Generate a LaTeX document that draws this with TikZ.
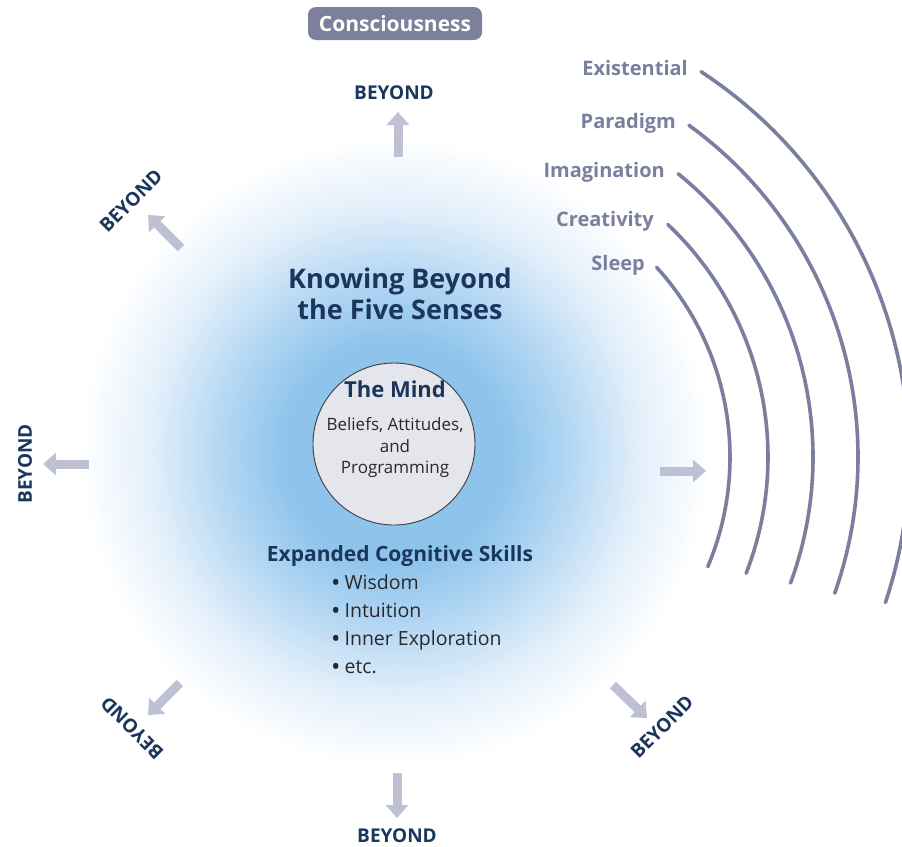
\documentclass[tikz,border=0pt]{standalone}
\usepackage{fontspec}
\setmainfont{Open Sans}
\usetikzlibrary{arrows.meta}

\definecolor{navy}{RGB}{27,54,93}
\definecolor{slate}{RGB}{122,127,158}
\definecolor{arrowgray}{RGB}{190,192,212}
\definecolor{boxgray}{RGB}{124,128,155}
\definecolor{mindfill}{RGB}{229,230,235}
\definecolor{mindedge}{RGB}{60,60,66}
\definecolor{bodytext}{RGB}{40,40,45}
\definecolor{glowcore}{RGB}{142,195,236}
\definecolor{glowmid}{RGB}{180,215,243}
\definecolor{glowedge}{RGB}{226,239,250}

% soft blue halo around the mind (25bp = outer radius of the shaded disc)
\pgfdeclareradialshading{mindglow}{\pgfpoint{0bp}{0bp}}{%
  color(0bp)=(glowcore); color(8.6bp)=(glowcore); color(13.7bp)=(glowmid);
  color(19.1bp)=(glowedge); color(24.6bp)=(white); color(50bp)=(white)}

\newcommand\fsz[1]{\fontsize{#1}{#1}\selectfont}
\newcommand\bul{{\fsz{25}\raisebox{-2pt}{•}}\hspace{4pt}}

\tikzset{
  beyond/.style={font=\fsz{19}\bfseries, text=navy, inner sep=0pt},
  outarrow/.style={draw=arrowgray, line width=9pt,
    -{Triangle[width=22pt,length=13pt]}},
  wave/.style={draw=slate, line width=3.6pt, line cap=round},
  wavelabel/.style={font=\fsz{20}\bfseries, text=slate, inner sep=0pt, anchor=base east},
  bullet/.style={font=\fsz{19.5}, text=bodytext, inner sep=0pt, anchor=mid west},
}

\begin{document}
\begin{tikzpicture}[x=1pt, y=-1pt]
  \useasboundingbox (0,0) rectangle (902,846);
  \fill[white] (0,0) rectangle (902,846);

  % halo
  \shade[shading=mindglow] (395,452) circle[radius=320];

  % header box
  \node[fill=boxgray, rounded corners=8pt, minimum width=174pt, minimum height=33pt,
        inner sep=0pt, text=white, font=\fsz{21}\bfseries] (cons) at (395,23.5) {Consciousness};

  % title
  \node[align=center, font=\fontsize{27}{31}\selectfont\bfseries, text=navy, inner sep=0pt]
    (title) at (400,294) {Knowing Beyond\\the Five Senses};

  % the mind
  \node[circle, draw=mindedge, line width=0.9pt, fill=mindfill, minimum size=162pt,
        inner sep=0pt] (mind) at (394,444) {};
  \node[font=\fsz{22}\bfseries, text=navy, inner sep=0pt] (mindtitle) at (395,389) {The Mind};
  \node[align=center, font=\fontsize{17}{21.5}\selectfont, text=bodytext, inner sep=0pt]
    (mindtext) at (395,448) {Beliefs, Attitudes,\\and\\Programming};

  % skills
  \node[font=\fsz{21}\bfseries, text=navy, inner sep=0pt] (skills) at (400,556) {Expanded Cognitive Skills};
  \node[bullet] (s1) at (331,587) {\bul Wisdom};
  \node[bullet] (s2) at (331,615) {\bul Intuition};
  \node[bullet] (s3) at (331,643) {\bul Inner Exploration};
  \node[bullet] (s4) at (331,671) {\bul etc.};

  % arrows pointing outward
  \coordinate (uT) at (398,157);  \coordinate (uH) at (398,112);
  \coordinate (ulT) at (181,248); \coordinate (ulH) at (148,215);
  \coordinate (lT) at (89,464);   \coordinate (lH) at (43,464);
  \coordinate (dlT) at (180,683); \coordinate (dlH) at (148,715);
  \coordinate (dT) at (397,773);  \coordinate (dH) at (397,818);
  \coordinate (drT) at (613,685); \coordinate (drH) at (647,718);
  \coordinate (rT) at (660,471);  \coordinate (rH) at (706,471);
  \draw[outarrow] (uT) -- (uH);
  \draw[outarrow] (ulT) -- (ulH);
  \draw[outarrow] (lT) -- (lH);
  \draw[outarrow] (dlT) -- (dlH);
  \draw[outarrow] (dT) -- (dH);
  \draw[outarrow] (drT) -- (drH);
  \draw[outarrow] (rT) -- (rH);

  % BEYOND labels
  \node[beyond] (bU) at (394,93) {BEYOND};
  \node[beyond, rotate=45] (bUL) at (131,201) {BEYOND};
  \node[beyond, rotate=90] (bL) at (25,464) {BEYOND};
  \node[beyond, rotate=135] (bDL) at (132,728) {BEYOND};
  \node[beyond] (bD) at (397,836) {BEYOND};
  \node[beyond, rotate=45] (bDR) at (662,727) {BEYOND};

  % states of consciousness as concentric arcs
  \coordinate (arcC) at (448,457);
  \node[wavelabel] (lExist) at (688,75)  {Existential};
  \node[wavelabel] (lPara)  at (676,128) {Paradigm};
  \node[wavelabel] (lImag)  at (665,177) {Imagination};
  \node[wavelabel] (lCrea)  at (654,226) {Creativity};
  \node[wavelabel] (lSleep) at (645,270) {Sleep};
  \draw[wave] (arcC) ++(-42.3:282) arc[start angle=-42.3, end angle=22.9, radius=282];
  \draw[wave] (arcC) ++(-46.6:320) arc[start angle=-46.6, end angle=21.3, radius=320];
  \draw[wave] (arcC) ++(-50.9:365) arc[start angle=-50.9, end angle=20.2, radius=365];
  \draw[wave] (arcC) ++(-54.0:410) arc[start angle=-54.0, end angle=19.4, radius=410];
  \draw[wave] (arcC) ++(-56.7:461) arc[start angle=-56.7, end angle=18.4, radius=461];
\end{tikzpicture}
\end{document}
